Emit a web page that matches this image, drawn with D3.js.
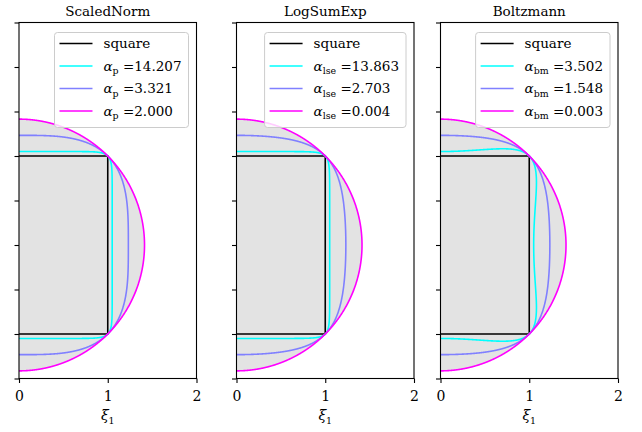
<!DOCTYPE html>
<html>
<head>
<meta charset="utf-8">
<script src="https://cdn.jsdelivr.net/npm/d3@7"></script>
<style>
  html, body { margin: 0; padding: 0; background: #fff; }
  svg { display: block; }
  svg text { font-family: "DejaVu Serif", serif; fill: #000; }
</style>
</head>
<body>
<svg id="chart" width="642" height="432"></svg>
<script>
// ---- data ----
const titles = ["ScaledNorm", "LogSumExp", "Boltzmann"];
const subscripts = ["p", "lse", "bm"];
const alphasScaledNorm = [14.207, 3.321, 2.000];
const alphasLogSumExp = [13.863, 2.703, 0.004];
const alphasBoltzmann = [3.502, 1.548, 0.003];
const squareCorners = [[0, 1], [1, 1], [1, -1], [0, -1]];
const xTicks = [0, 1, 2];
const yTicks = [-1.5, -1, -0.5, 0, 0.5, 1, 1.5, 2, 2.5];
const xDomain = [0, 2];
const yDomain = [-1.5, 2.5];

// ---- style / layout ----
const curveColors = ["#00ffff", "#8080ff", "#ff00ff"];
const panelLeft = [19, 236.5, 440.5];
const panelW = 177.5;
const panelTop = 22.5, panelBottom = 378.5;
const fontSize = 13.5;

// level-set definitions for each method (parameter shown in legend)
const methods = [
  { // scaled p-norm through (1,1)
    alphas: alphasScaledNorm,
    radius: (a, c, s) => Math.pow(2, 1 / a) / Math.pow(Math.pow(Math.abs(c), a) + Math.pow(Math.abs(s), a), 1 / a)
  },
  { // log-sum-exp over (+-x1, +-x2)
    alphas: alphasLogSumExp,
    F: (a, x, y) => Math.pow(Math.sinh(a * x / 2), 2) + Math.pow(Math.sinh(a * y / 2), 2),
    level: a => 2 * Math.pow(Math.sinh(a / 2), 2)
  },
  { // Boltzmann operator over (+-x1, +-x2)
    alphas: alphasBoltzmann,
    F: (a, x, y) => (x * Math.sinh(a * x) + y * Math.sinh(a * y)) / (Math.cosh(a * x) + Math.cosh(a * y)),
    level: a => Math.tanh(a)
  }
];

function solveRadius(m, a, c, s) {
  if (m.radius) return m.radius(a, c, s);
  const L = m.level(a);
  const g = r => m.F(a, r * c, r * s) - L;
  let hi = 3, lo = hi;
  for (let r = 3; r > 0.01; r -= 0.01) {
    if (g(r) < 0) { lo = r; hi = r + 0.01; break; }
  }
  for (let i = 0; i < 60; i++) {
    const mid = (lo + hi) / 2;
    if (g(mid) < 0) lo = mid; else hi = mid;
  }
  return (lo + hi) / 2;
}

const thetas = d3.range(0, 1441).map(i => -Math.PI / 2 + Math.PI * i / 1440);

const svg = d3.select("#chart");

methods.forEach((m, k) => {
  const x = d3.scaleLinear().domain(xDomain).range([panelLeft[k], panelLeft[k] + panelW]);
  const y = d3.scaleLinear().domain(yDomain).range([panelBottom, panelTop]);
  const g = svg.append("g");

  const clipId = "clip" + k;
  svg.append("clipPath").attr("id", clipId)
    .append("rect").attr("x", x(0)).attr("y", panelTop)
    .attr("width", panelW).attr("height", panelBottom - panelTop);

  const curves = m.alphas.map(a => thetas.map(t => {
    const c = Math.cos(t), s = Math.sin(t);
    const r = solveRadius(m, a, c, s);
    return [r * c, r * s];
  }));

  const line = d3.line().x(d => x(d[0])).y(d => y(d[1]));
  const plot = g.append("g").attr("clip-path", `url(#${clipId})`);

  // union fill
  const fillPts = thetas.map((t, i) => {
    let best = curves[0][i], br = Math.hypot(best[0], best[1]);
    curves.forEach(cv => { const r = Math.hypot(cv[i][0], cv[i][1]); if (r > br) { br = r; best = cv[i]; } });
    return best;
  });
  plot.append("path").attr("d", line(fillPts) + "Z")
    .attr("fill", "#e3e3e3").attr("stroke", "none");

  // square
  plot.append("path").attr("d", line(squareCorners))
    .attr("fill", "none").attr("stroke", "#000").attr("stroke-width", 1.6);

  curves.forEach((cv, j) => {
    plot.append("path").attr("d", line(cv))
      .attr("fill", "none").attr("stroke", curveColors[j]).attr("stroke-width", 1.6)
      .attr("stroke-linejoin", "round");
  });

  // axes
  const xAxis = d3.axisBottom(x).tickValues(xTicks).tickFormat(d3.format("d")).tickSize(4.5).tickPadding(7.5);
  const gx = g.append("g").attr("transform", `translate(0,${panelBottom})`).call(xAxis);
  gx.attr("font-family", null);
  gx.select(".domain").remove();
  gx.selectAll("line").attr("stroke", "#000").attr("stroke-width", 1.1);
  gx.selectAll("text").attr("font-size", fontSize + 0.5).attr("dy", "0.75em");

  const yAxis = d3.axisLeft(y).tickValues(yTicks).tickFormat("").tickSize(4.5);
  const gy = g.append("g").attr("transform", `translate(${x(0)},0)`).call(yAxis);
  gy.select(".domain").remove();
  gy.selectAll("line").attr("stroke", "#000").attr("stroke-width", 1.1);

  g.append("rect").attr("x", x(0)).attr("y", panelTop)
    .attr("width", panelW).attr("height", panelBottom - panelTop)
    .attr("fill", "none").attr("stroke", "#000").attr("stroke-width", 1.1);

  // title
  g.append("text").attr("x", x(1)).attr("y", 16).attr("text-anchor", "middle")
    .attr("font-size", fontSize).text(titles[k]);

  // x label
  const xl = g.append("text").attr("x", x(1)).attr("y", 420).attr("text-anchor", "middle")
    .attr("font-size", fontSize + 0.5);
  xl.append("tspan").attr("font-style", "italic").text("ξ");
  xl.append("tspan").attr("font-size", fontSize * 0.7).attr("dy", 3.5).text("1");

  // legend
  const lg = g.append("g");
  const box = lg.append("rect");
  const rowsY = [43.5, 66, 88.5, 111];
  const entries = [{ label: "square", color: "#000" }].concat(m.alphas.map((a, j) => ({ a, color: curveColors[j] })));
  let maxW = 0;
  const items = entries.map((e, i) => {
    const it = lg.append("g");
    it.append("line").attr("x1", 0).attr("x2", 33).attr("y1", rowsY[i]).attr("y2", rowsY[i])
      .attr("stroke", e.color).attr("stroke-width", 1.6);
    const t = it.append("text").attr("x", 44).attr("y", rowsY[i] + 4.5).attr("font-size", fontSize);
    if (e.label) t.text(e.label);
    else {
      t.append("tspan").attr("font-style", "italic").text("α");
      t.append("tspan").attr("font-size", fontSize * 0.7).attr("dy", 3.5).text(subscripts[k]);
      t.append("tspan").attr("dy", -3.5).text(" =" + e.a.toFixed(3));
    }
    maxW = Math.max(maxW, t.node().getComputedTextLength());
    return it;
  });
  const boxW = 5 + 44 + maxW + 7;
  const boxRight = x(2) - 8;
  const boxLeft = boxRight - boxW;
  box.attr("x", boxLeft).attr("y", 32.5).attr("width", boxW).attr("height", 95)
    .attr("rx", 3).attr("ry", 3)
    .attr("fill", "#fff").attr("fill-opacity", 0.8)
    .attr("stroke", "#cccccc").attr("stroke-width", 1);
  items.forEach(it => it.attr("transform", `translate(${boxLeft + 5},0)`));
});
</script>
</body>
</html>
